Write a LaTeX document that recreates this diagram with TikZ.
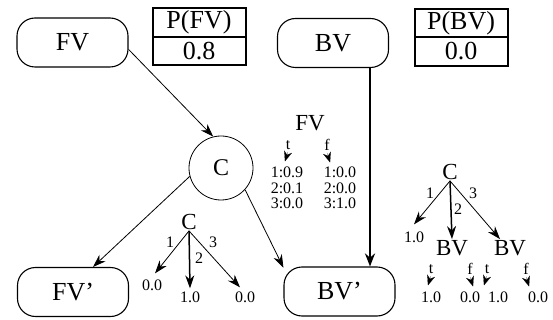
\documentclass[tikz,border=0pt]{standalone}
\usepackage{fontspec}
\setmainfont{Liberation Serif}
\usetikzlibrary{arrows.meta,positioning}

\begin{document}
\begin{tikzpicture}[x=1pt,y=-1pt,
    varnode/.style={draw, rounded corners=18pt, line width=1.1pt, minimum width=111pt, minimum height=49pt, font=\fontsize{26}{28}\selectfont},
    tabcell/.style={draw, line width=2pt, outer sep=0pt, inner sep=0pt, minimum width=93pt, minimum height=28.5pt, font=\fontsize{26}{28}\selectfont},
    arr/.style={-{Stealth[length=13pt,width=9pt]}, line width=0.8pt},
    treelbl/.style={font=\fontsize{23}{25}\selectfont, inner sep=1pt},
    small/.style={font=\fontsize{16}{17}\selectfont, inner sep=1pt},
    tftip/.style={-{Stealth[length=10pt,width=8pt]}, line width=0.1pt}]

    \useasboundingbox (0,0) rectangle (553,320);

    % variables
    \node[varnode] (fv)  at (72.5,42.5) {FV};
    \node[varnode] (bv)  at (333,43)    {BV};
    \node[varnode] (fvp) at (73,292)    {FV'};
    \node[varnode] (bvp) at (339.5,291.5) {BV'};
    \node[draw, circle, line width=0.8pt, minimum size=64pt, font=\fontsize{24}{26}\selectfont] (c) at (221,168) {C};

    % priors
    \node[tabcell] (pfvh) at (199,22.5) {P(FV)};
    \node[tabcell, below=0pt of pfvh] (pfvv) {0.8};
    \node[tabcell] (pbvh) at (461,23) {P(BV)};
    \node[tabcell, below=0pt of pbvh] (pbvv) {0.0};

    % arcs
    \draw[arr] (fv.-7) -- (c.104);
    \draw[arr] (c.195) -- ([xshift=20pt]fvp.north);
    \draw[arr] (c.-42) -- (bvp.157);
    \draw[-{Stealth[length=13pt,width=10pt]}, line width=2.5pt] ([xshift=37pt]bv.south) -- ([xshift=37pt]bv.south |- bvp.north);

    % CPT of BV' for C = 1,2,3 on FV
    \node[treelbl] (cfv) at (310,123) {FV};
    \node[small] (ft) at (288,145) {t};
    \node[small] (ff) at (327,145) {f};
    \draw[tftip] ([yshift=-1pt]ft.south) -- ++(-3,9.5);
    \draw[tftip] ([yshift=-1pt]ff.south) -- ++(3,9.5);
    \node[small, align=left, font=\fontsize{16}{15.5}\selectfont] (fvt) at (287,188) {1:0.9\\2:0.1\\3:0.0};
    \node[small, align=left, font=\fontsize{16}{15.5}\selectfont] (fvf) at (340,188) {1:0.0\\2:0.0\\3:1.0};

    % tree of FV'
    \node[treelbl] (lc) at (189,222) {C};
    \node[small] (lv1) at (152,285) {0.0};
    \node[small] (lv2) at (190,297) {1.0};
    \node[small] (lv3) at (245,297) {0.0};
    \draw[arr] (lc.south) -- ([xshift=3pt,yshift=5pt]lv1.north);
    \draw[arr, line width=1.5pt] (lc.south) -- ([yshift=2pt]lv2.north);
    \draw[arr] (lc.south) -- ([xshift=-5pt,yshift=3pt]lv3.north);
    \node[small] at (170,242) {1};
    \node[small] at (199,258) {2};
    \node[small] at (213,242) {3};

    % tree of BV'
    \node[treelbl] (rc) at (450,172) {C};
    \node[small] (rv1) at (414,237) {1.0};
    \node[treelbl] (rbv2) at (452,248) {BV};
    \node[treelbl] (rbv3) at (510,248) {BV};
    \draw[arr] (rc.south) -- ([yshift=6pt]rv1.north);
    \draw[arr, line width=1.5pt] (rc.south) -- (rbv2.north);
    \draw[arr] (rc.south) -- ([xshift=-10pt]rbv3.north);
    \node[small] at (430,193) {1};
    \node[small] at (458,209) {2};
    \node[small] at (473,193) {3};

    \node[small] (rt2) at (431,269) {t};
    \node[small] (rf2) at (470,269) {f};
    \node[small] (rt3) at (487,269) {t};
    \node[small] (rf3) at (526,269) {f};
    \foreach \n in {rt2,rt3} \draw[tftip] ([yshift=-1pt]\n.south) -- ++(-3,9.5);
    \foreach \n in {rf2,rf3} \draw[tftip] ([yshift=-1pt]\n.south) -- ++(3,9.5);
    \node[small] (rv2) at (431,297) {1.0};
    \node[small] (rv3) at (470,297) {0.0};
    \node[small] (rv4) at (498,297) {1.0};
    \node[small] (rv5) at (538,297) {0.0};
\end{tikzpicture}
\end{document}
